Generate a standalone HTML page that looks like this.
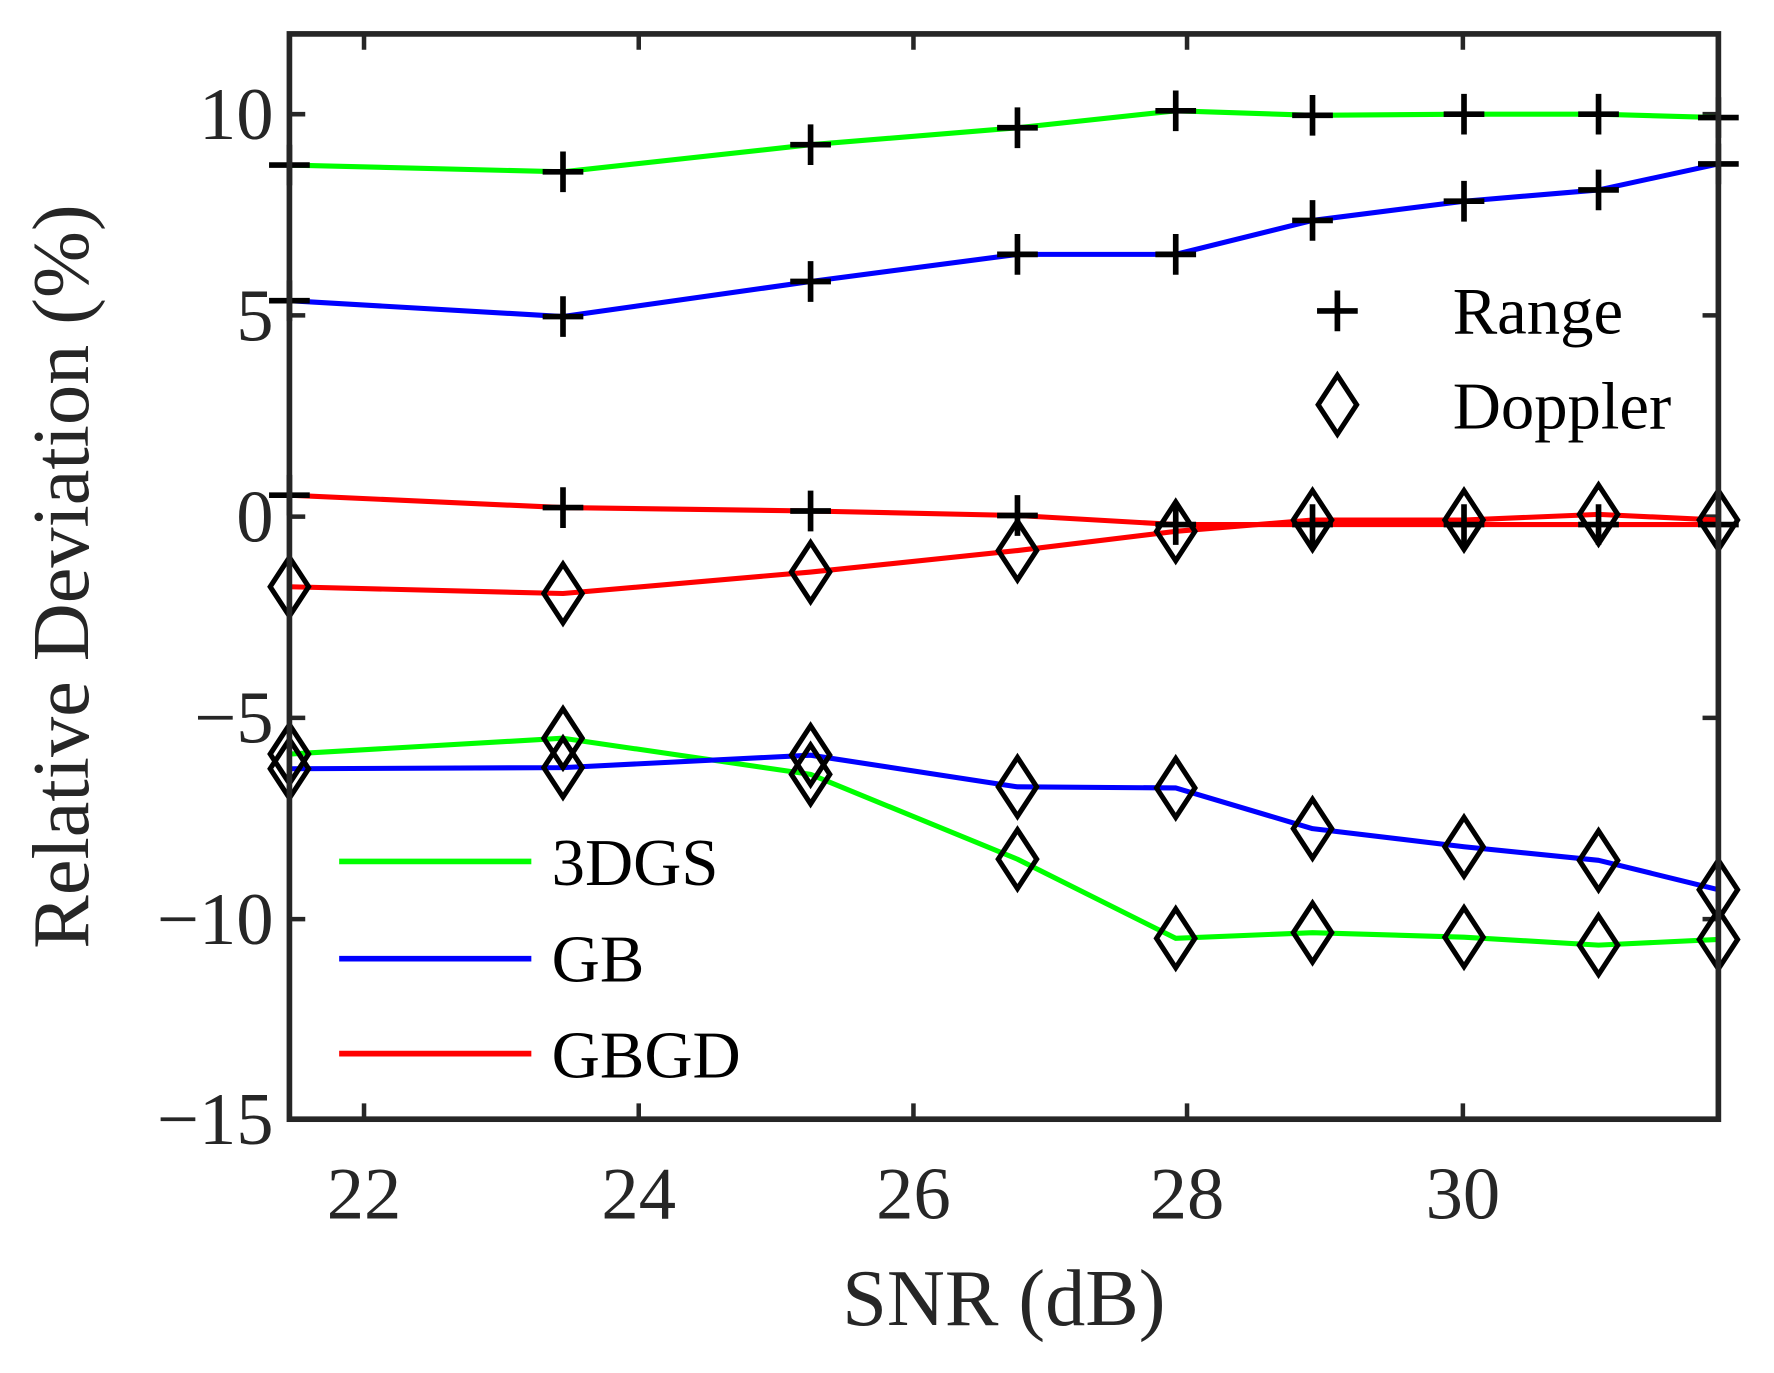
<!DOCTYPE html>
<html><head><meta charset="utf-8"><style>html,body{margin:0;padding:0;background:#fff}svg{display:block}</style></head>
<body>
<svg width="1774" height="1373" viewBox="0 0 1569.2 1214.5" xmlns="http://www.w3.org/2000/svg" font-family="Liberation Serif, serif" fill="#262626">
<rect width="1569.2" height="1214.5" fill="#fff"/>
<g stroke="#262626" stroke-width="4">
<path d="M322,30v14M565,30v14M808,30v14M1050,30v14M1294,30v14M322,990v-14M565,990v-14M808,990v-14M1050,990v-14M1294,990v-14"/>
<path d="M256,101h14M256,279h14M256,457h14M256,635h14M256,813h14M1520,101h-14M1520,279h-14M1520,457h-14M1520,635h-14M1520,813h-14"/>
</g>
<g fill="none" stroke-width="4.5" stroke-linejoin="round">
<polyline stroke="#00ff00" points="256,146 498,152 717,128 900,113 1040,98 1161,102 1295,101 1414,101 1520,104"/>
<polyline stroke="#0000ff" points="256,266 498,280 717,249 900,225 1040,225 1161,195 1295,178 1414,168 1520,145"/>
<polyline stroke="#ff0000" points="256,438 498,449 717,452 900,456 1040,464 1161,464 1295,464 1414,464 1520,464"/>
<polyline stroke="#ff0000" points="256,519 498,525 717,506 900,487 1040,470 1161,460 1295,460 1414,455 1520,460"/>
<polyline stroke="#00ff00" points="256,667 498,653 717,685 900,760 1040,830 1161,825 1295,829 1414,836 1520,831"/>
<polyline stroke="#0000ff" points="256,680 498,679 717,668 900,696 1040,697 1161,733 1295,749 1414,761 1520,787"/>
</g>
<g stroke="#000" stroke-width="5" fill="none">
<path d="M238,146h36M256,128v36M480,152h36M498,134v36M699,128h36M717,110v36M882,113h36M900,95v36M1022,98h36M1040,80v36M1143,102h36M1161,84v36M1277,101h36M1295,83v36M1396,101h36M1414,83v36M1502,104h36M1520,86v36"/>
<path d="M238,266h36M256,248v36M480,280h36M498,262v36M699,249h36M717,231v36M882,225h36M900,207v36M1022,225h36M1040,207v36M1143,195h36M1161,177v36M1277,178h36M1295,160v36M1396,168h36M1414,150v36M1502,145h36M1520,127v36"/>
<path d="M238,438h36M256,420v36M480,449h36M498,431v36M699,452h36M717,434v36M882,456h36M900,438v36M1022,464h36M1040,446v36M1143,464h36M1161,446v36M1277,464h36M1295,446v36M1396,464h36M1414,446v36M1502,464h36M1520,446v36"/>
<path d="M1165,275h36M1183,257v36"/>
</g>
<g stroke="#000" stroke-width="4.5" fill="none">
<path d="M256,493l17,26l-17,26l-17,-26zM498,499l17,26l-17,26l-17,-26zM717,480l17,26l-17,26l-17,-26zM900,461l17,26l-17,26l-17,-26zM1040,444l17,26l-17,26l-17,-26zM1161,434l17,26l-17,26l-17,-26zM1295,434l17,26l-17,26l-17,-26zM1414,429l17,26l-17,26l-17,-26zM1520,434l17,26l-17,26l-17,-26z"/>
<path d="M256,641l17,26l-17,26l-17,-26zM498,627l17,26l-17,26l-17,-26zM717,659l17,26l-17,26l-17,-26zM900,734l17,26l-17,26l-17,-26zM1040,804l17,26l-17,26l-17,-26zM1161,799l17,26l-17,26l-17,-26zM1295,803l17,26l-17,26l-17,-26zM1414,810l17,26l-17,26l-17,-26zM1520,805l17,26l-17,26l-17,-26z"/>
<path d="M256,654l17,26l-17,26l-17,-26zM498,653l17,26l-17,26l-17,-26zM717,642l17,26l-17,26l-17,-26zM900,670l17,26l-17,26l-17,-26zM1040,671l17,26l-17,26l-17,-26zM1161,707l17,26l-17,26l-17,-26zM1295,723l17,26l-17,26l-17,-26zM1414,735l17,26l-17,26l-17,-26zM1520,761l17,26l-17,26l-17,-26z"/>
<path d="M1183,332l17,26l-17,26l-17,-26z"/>
</g>
<rect x="256" y="30" width="1264" height="960" fill="none" stroke="#262626" stroke-width="5"/>
<g stroke-width="5">
<line x1="300" y1="762" x2="470" y2="762" stroke="#00ff00"/>
<line x1="300" y1="848" x2="470" y2="848" stroke="#0000ff"/>
<line x1="300" y1="932" x2="470" y2="932" stroke="#ff0000"/>
</g>
<g font-size="59" fill="#000">
<text x="488" y="783">3DGS</text>
<text x="488" y="868">GB</text>
<text x="488" y="953">GBGD</text>
<text x="1285" y="295">Range</text>
<text x="1285" y="379">Doppler</text>
</g>
<g font-size="66" text-anchor="end">
<text x="242" y="123">10</text>
<text x="242" y="301">5</text>
<text x="242" y="479">0</text>
<text x="242" y="657">−5</text>
<text x="242" y="835">−10</text>
<text x="242" y="1012">−15</text>
</g>
<g font-size="66" text-anchor="middle">
<text x="322" y="1078">22</text>
<text x="565" y="1078">24</text>
<text x="808" y="1078">26</text>
<text x="1050" y="1078">28</text>
<text x="1294" y="1078">30</text>
<text x="888" y="1172" font-size="71">SNR (dB)</text>
<text transform="translate(78,510) rotate(-90)" font-size="71">Relative Deviation (%)</text>
</g>
</svg>
</body></html>
